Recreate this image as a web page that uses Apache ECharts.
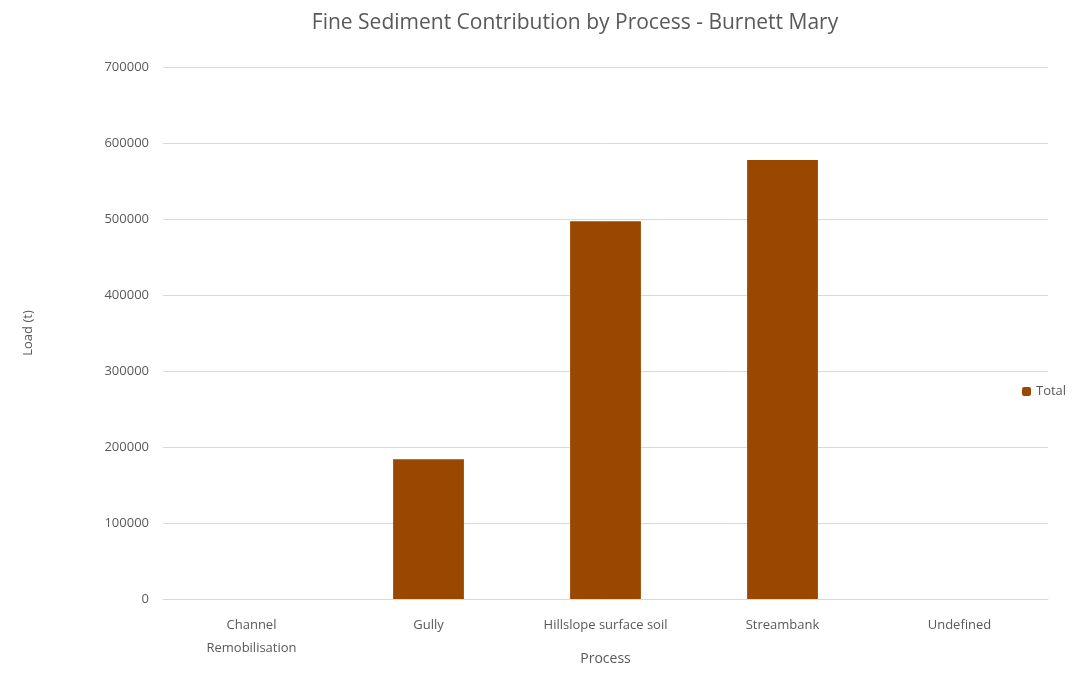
<!DOCTYPE html>
<html><head><meta charset="utf-8">
<script src="https://cdn.jsdelivr.net/npm/echarts@6/dist/echarts.min.js"></script>
<style>html,body{margin:0;padding:0;background:#fff}#c{width:1079px;height:673px}</style>
</head><body><div id="c"></div>
<script>
const categories = ['Channel\nRemobilisation', 'Gully', 'Hillslope surface soil', 'Streambank', 'Undefined'];
const totals = [0, 184000, 497000, 577500, 0];
const seriesName = 'Total';

const chart = echarts.init(document.getElementById('c'));
chart.setOption({
  animation: false,
  backgroundColor: '#fff',
  textStyle: { fontFamily: 'Open Sans, Liberation Sans, sans-serif' },
  title: {
    text: 'Fine Sediment Contribution by Process - Burnett Mary',
    left: 570, top: 8, textAlign: 'center',
    textStyle: { fontSize: 21, fontWeight: 'normal', color: '#595959', fontFamily: 'Open Sans, sans-serif' }
  },
  legend: {
    data: [seriesName], orient: 'vertical', left: 1017, top: 380,
    itemWidth: 9, itemHeight: 9, itemGap: 4,
    textStyle: { fontSize: 13, color: '#595959' }
  },
  grid: { left: 163, right: 31, top: 67, bottom: 74, outerBoundsMode: 'none', containLabel: false },
  xAxis: {
    type: 'category', data: categories,
    name: 'Process', nameLocation: 'middle', nameGap: 53, nameMoveOverlap: false,
    nameTextStyle: { fontSize: 14, color: '#595959' },
    axisLine: { lineStyle: { color: '#d9d9d9' } },
    axisTick: { show: false },
    axisLabel: { fontSize: 13, color: '#595959', margin: 15, lineHeight: 23, interval: 0 }
  },
  yAxis: {
    type: 'value', min: 0, max: 700000, interval: 100000,
    name: 'Load (t)', nameLocation: 'middle', nameGap: 128, nameRotate: 90, nameMoveOverlap: false,
    nameTextStyle: { fontSize: 13, color: '#595959' },
    axisLine: { show: false }, axisTick: { show: false },
    axisLabel: { fontSize: 13, color: '#595959', margin: 14, formatter: v => String(v) },
    splitLine: { lineStyle: { color: '#d9d9d9', width: 1 } }
  },
  series: [{
    name: seriesName, type: 'bar', data: totals, barWidth: '40%',
    itemStyle: { color: '#9A4700' }
  }]
});
</script></body></html>
